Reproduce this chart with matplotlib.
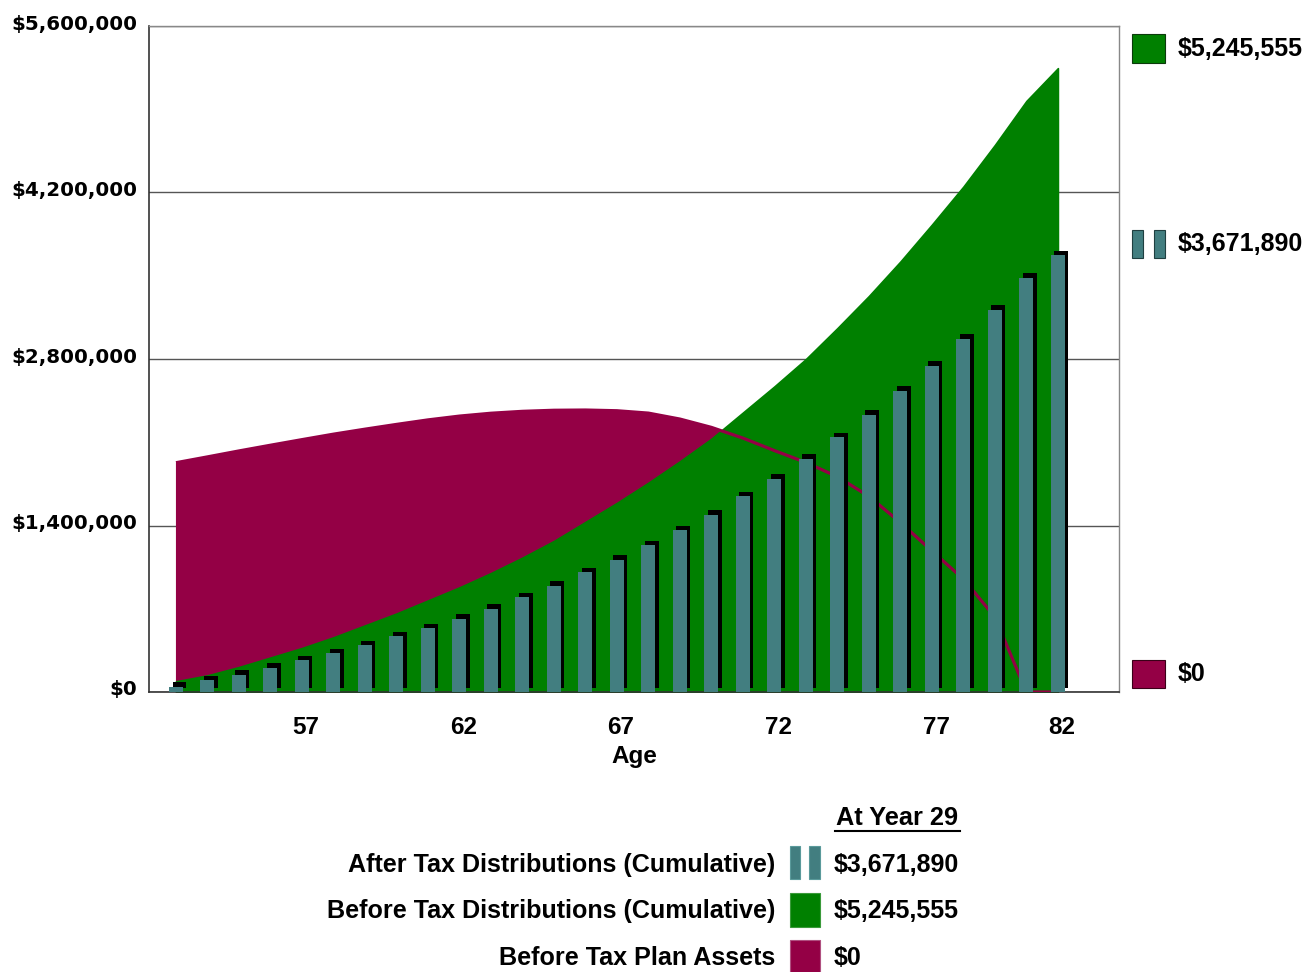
import matplotlib
matplotlib.use("Agg")
import matplotlib.pyplot as plt
from matplotlib.patches import Rectangle
from matplotlib.lines import Line2D
from matplotlib.transforms import ScaledTranslation

W, H, DPI = 1307, 972, 100

# Cumulative after-tax distributions (bars), one per plan year
after_tax = [46000, 97000, 147000, 206000, 265000, 324000, 391000, 467000, 534000,
             618000, 702000, 795000, 895000, 1005000, 1114000, 1232000, 1358000,
             1492000, 1644000, 1795000, 1963000, 2140000, 2333000, 2535000, 2745000,
             2972000, 3216000, 3485000, 3671890]

# Cumulative before-tax distributions (green area)
before_tax = [90000, 140000, 210000, 290000, 370000, 460000, 560000, 660000, 770000,
              880000, 1000000, 1130000, 1270000, 1430000, 1590000, 1760000, 1940000,
              2130000, 2350000, 2570000, 2800000, 3060000, 3330000, 3620000, 3930000,
              4250000, 4600000, 4970000, 5245555]

# Before-tax plan assets (maroon area)
plan_assets = [1928000, 1977000, 2027000, 2075000, 2122000, 2168000, 2210000, 2250000,
               2288000, 2320000, 2344000, 2360000, 2369000, 2371000, 2365000, 2345000,
               2295000, 2225000, 2135000, 2030000, 1930000, 1810000, 1645000, 1425000,
               1186000, 950000, 630000, 0, 0]

age_tick_index = [4, 9, 14, 19, 24, 28]
age_tick_labels = ["57", "62", "67", "72", "77", "82"]
y_ticks = [0, 1400000, 2800000, 4200000, 5600000]
final_year = 29

series_names = ["After Tax Distributions (Cumulative)",
                "Before Tax Distributions (Cumulative)",
                "Before Tax Plan Assets"]

TEAL = "#427E80"
GREEN = "#008000"
MAROON = "#940045"
LABEL_FONT = "Liberation Sans"

fig = plt.figure(figsize=(W / DPI, H / DPI), dpi=DPI)


def fx(px):
    return px / W


def fy(py):
    return 1 - py / H


ax = fig.add_axes([fx(149), fy(692), fx(1119) - fx(149), fy(26) - fy(692)])

x = list(range(len(after_tax)))

ax.fill_between(x, 0, plan_assets, facecolor=MAROON, edgecolor=MAROON, lw=0.8, zorder=1)
ax.fill_between(x, 0, before_tax, facecolor=GREEN, edgecolor=GREEN, lw=1.2, zorder=2)
ax.plot(x, plan_assets, color=MAROON, lw=2.3, zorder=3, solid_capstyle="butt")

bar_w = 0.444
shadow = ax.bar(x, after_tax, width=bar_w, color="black", lw=0, zorder=4)
shift = ScaledTranslation(3.5 / DPI, 4.5 / DPI, fig.dpi_scale_trans)
for p in shadow:
    p.set_transform(ax.transData + shift)
ax.bar(x, after_tax, width=bar_w, color=TEAL, lw=0, zorder=5)

ax.set_xlim(-0.857, 29.94)
ax.set_ylim(0, 5600000)

# Horizontal grid behind everything
ax.set_yticks(y_ticks)
ax.yaxis.grid(True, color="#555555", lw=1)
ax.set_axisbelow(True)
ax.set_yticklabels([f"${v:,.0f}" for v in y_ticks], fontfamily="DejaVu Sans",
                   fontweight="bold", fontsize=14.3)
ax.tick_params(axis="y", length=0, pad=8.6)
up = ScaledTranslation(0, 4 / DPI, fig.dpi_scale_trans)
for lab in ax.get_yticklabels():
    lab.set_transform(lab.get_transform() + up)

ax.set_xticks([i + 0.13 for i in age_tick_index])
ax.set_xticklabels(age_tick_labels, fontfamily=LABEL_FONT, fontweight="bold",
                   fontsize=17.5)
ax.tick_params(axis="x", length=0, pad=17.5)

for side in ("left", "bottom"):
    ax.spines[side].set_color("#333333")
    ax.spines[side].set_linewidth(1.2)
for side in ("top", "right"):
    ax.spines[side].set_color("#888888")
    ax.spines[side].set_linewidth(1)

fig.text(fx(634.5), fy(757), "Age", ha="center", va="center",
         fontfamily=LABEL_FONT, fontweight="bold", fontsize=17.5)


def rect(x0, y0, x1, y1, color, edge):
    fig.add_artist(Rectangle((fx(x0), fy(y1)), fx(x1) - fx(x0), fy(y0) - fy(y1),
                             transform=fig.transFigure, facecolor=color,
                             edgecolor=edge, lw=0.8))


def money(v):
    return f"${v:,.0f}"


VALUE_SIZE = 18

# Right-hand end-value legend
rect(1132, 34, 1165, 63, GREEN, "#0c3a0c")
fig.text(fx(1178), fy(49), money(before_tax[-1]), ha="left", va="center",
         fontfamily=LABEL_FONT, fontweight="bold", fontsize=VALUE_SIZE)
rect(1132, 230, 1143, 258, TEAL, "#1f3f40")
rect(1154, 230, 1165, 258, TEAL, "#1f3f40")
fig.text(fx(1178), fy(244), money(after_tax[-1]), ha="left", va="center",
         fontfamily=LABEL_FONT, fontweight="bold", fontsize=VALUE_SIZE)
rect(1132, 660, 1165, 688, MAROON, "#3a0018")
fig.text(fx(1178), fy(674), money(plan_assets[-1]), ha="left", va="center",
         fontfamily=LABEL_FONT, fontweight="bold", fontsize=VALUE_SIZE)

# Bottom summary legend
fig.text(fx(958), fy(818), f"At Year {final_year}", ha="right", va="center",
         fontfamily=LABEL_FONT, fontweight="bold", fontsize=18.3)
fig.add_artist(Line2D([fx(835), fx(960)], [fy(831), fy(831)], color="black", lw=1.5,
                      transform=fig.transFigure))

rows_y = [865, 911, 958]
values = [after_tax[-1], before_tax[-1], plan_assets[-1]]
for name, yy, v in zip(series_names, rows_y, values):
    fig.text(fx(775), fy(yy), name, ha="right", va="center",
             fontfamily=LABEL_FONT, fontweight="bold", fontsize=18.1)
    fig.text(fx(834), fy(yy), money(v), ha="left", va="center",
             fontfamily=LABEL_FONT, fontweight="bold", fontsize=VALUE_SIZE)

rect(790, 846, 800, 879, TEAL, "#5a9a9b")
rect(809, 846, 820, 879, TEAL, "#5a9a9b")
rect(790, 893, 820, 927, GREEN, "#3a9a3a")
rect(790, 940, 820, 975, MAROON, "#b05080")

fig.savefig("out.png", dpi=DPI)
